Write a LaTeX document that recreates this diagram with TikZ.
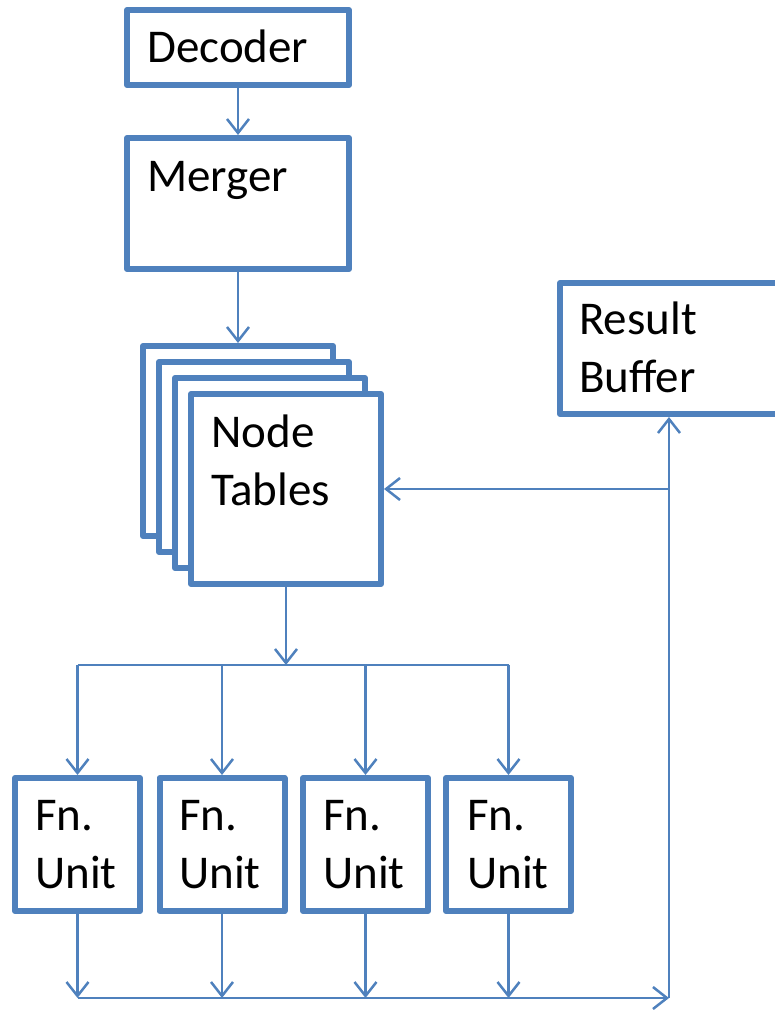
\documentclass[tikz,border=0pt]{standalone}
\usepackage{fontspec}
\setmainfont{Carlito}
\usetikzlibrary{arrows.meta}
\definecolor{ublue}{HTML}{4F81BD}
\begin{document}
\begin{tikzpicture}[x=1pt,y=-1pt,
  box/.style={draw=ublue,line width=6pt,fill=white,rectangle,inner sep=0pt,line join=round},
  txt/.style={font=\fontsize{47}{57.5}\selectfont,inner sep=0pt,align=left,anchor=base west},
  conn/.style={draw=ublue,line width=2.5pt},
  arr/.style={conn,-{Straight Barb[length=14pt,width=22pt,line width=2.5pt]}}]
\clip (0,0) rectangle (775,1011);
% boxes
\node[box,minimum width=222pt,minimum height=75pt] (dec) at (238,47.5) {};
\node[box,minimum width=222pt,minimum height=131pt] (mer) at (238,203.5) {};
\node[box,minimum width=190pt,minimum height=190pt] (nt1) at (238,441) {};
\node[box,minimum width=190pt,minimum height=190pt] (nt2) at (254,457) {};
\node[box,minimum width=190pt,minimum height=190pt] (nt3) at (270,473) {};
\node[box,minimum width=190pt,minimum height=190pt] (nt4) at (286,489) {};
\node[box,minimum width=240pt,minimum height=131pt] (res) at (680,348.5) {};
\node[box,minimum width=125pt,minimum height=133pt] (fn1) at (77.5,844.5) {};
\node[box,minimum width=125pt,minimum height=133pt] (fn2) at (222,844.5) {};
\node[box,minimum width=125pt,minimum height=133pt] (fn3) at (365.5,844.5) {};
\node[box,minimum width=125pt,minimum height=133pt] (fn4) at (508.5,844.5) {};
% texts (base = baseline of last line)
\node[txt] (tdec) at (147,63) {Decoder};
\node[txt] (tmer) at (147,192) {Merger};
\node[txt] (tnt) at (211,505) {Node\\Tables};
\node[txt] (tres) at (579,392) {Result\\Buffer};
\node[txt] (tfn1) at (35,888) {Fn.\\Unit};
\node[txt] (tfn2) at (179,888) {Fn.\\Unit};
\node[txt] (tfn3) at (323,888) {Fn.\\Unit};
\node[txt] (tfn4) at (467,888) {Fn.\\Unit};
% coordinates
\coordinate (top) at (0,665);
\coordinate (bot) at (0,998);
\coordinate (rb) at (669,998);
% connectors
\draw[arr] (dec.south) -- (mer.north);
\draw[arr] (mer.south) -- (nt1.north);
\draw[arr] (nt4.south) -- (nt4.south |- top);
\draw[conn] (fn1.north |- top) -- (fn4.north |- top);
\foreach \f in {fn1,fn2,fn3,fn4}{
  \draw[arr] (\f.north |- top) -- (\f.north);
  \draw[arr] (\f.south) -- (\f.south |- bot);
}
\draw[arr] (fn1.south |- bot) -- (rb);
\draw[arr] (rb) -- (rb |- res.south);
\draw[arr] (rb |- nt4.east) -- (nt4.east);
\end{tikzpicture}
\end{document}
